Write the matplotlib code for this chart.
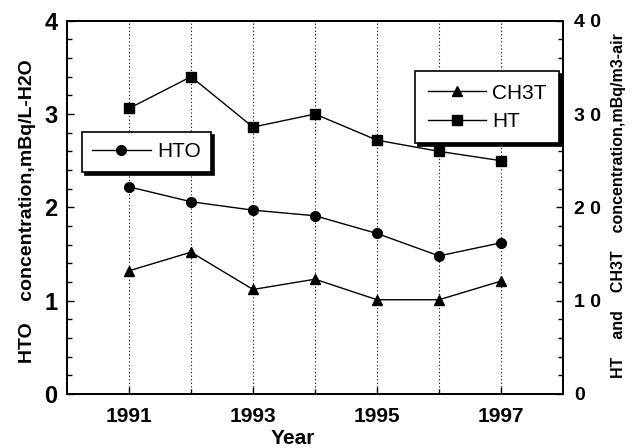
import matplotlib
matplotlib.use("Agg")
import matplotlib.pyplot as plt
from matplotlib.ticker import MultipleLocator, FixedLocator

years = [1991, 1992, 1993, 1994, 1995, 1996, 1997]
hto = [2.22, 2.06, 1.97, 1.91, 1.72, 1.48, 1.62]
ch3t = [13.2, 15.2, 11.2, 12.3, 10.1, 10.1, 12.1]
ht = [30.6, 34.0, 28.6, 30.0, 27.2, 26.0, 25.0]
xtick_labels = ["1991", "1993", "1995", "1997"]
left_ticks = [0, 1, 2, 3, 4]
right_ticks = [0, 10, 20, 30, 40]
right_tick_labels = ["0", "1 0", "2 0", "3 0", "4 0"]

plt.rcParams['font.family'] = ['Liberation Sans', 'DejaVu Sans']

fig = plt.figure(figsize=(6.36, 4.48), dpi=100)
ax = fig.add_axes([67/636, 1-394/448, 496/636, (394-20.7)/448])
ax2 = ax.twinx()

for a in (ax, ax2):
    for s in a.spines.values():
        s.set_linewidth(1.3)

ax.set_xlim(1990, 1998)
ax.set_ylim(0, 4)
ax2.set_ylim(0, 40)

for y in years:
    ax.axvline(y, color='black', linestyle=(0, (1, 2.2)), linewidth=0.8, zorder=0)

l1, = ax.plot(years, hto, color='black', linewidth=1, marker='o', markersize=7, label='HTO')
l2, = ax2.plot(years, ch3t, color='black', linewidth=1, marker='^', markersize=7.5, label='CH3T')
l3, = ax2.plot(years, ht, color='black', linewidth=1, marker='s', markersize=6.5, label='HT')

ax.xaxis.set_major_locator(FixedLocator([1991, 1993, 1995, 1997]))
ax.xaxis.set_minor_locator(FixedLocator([1992, 1994, 1996]))
ax.set_xticklabels(xtick_labels, fontsize=15, fontweight='bold')
ax.yaxis.set_major_locator(FixedLocator(left_ticks))
ax.yaxis.set_minor_locator(MultipleLocator(0.2))
ax.set_yticklabels([str(t) for t in left_ticks], fontsize=17, fontweight='bold')
ax2.yaxis.set_major_locator(FixedLocator(right_ticks))
ax2.yaxis.set_minor_locator(MultipleLocator(2))
ax2.set_yticklabels(right_tick_labels, fontsize=14, fontweight='bold')

ax.tick_params(axis='both', which='major', direction='in', length=5, width=1, pad=7)
ax.tick_params(axis='both', which='minor', direction='in', length=3.5, width=1)
ax.tick_params(axis='y', which='both', right=False)
ax.tick_params(axis='x', which='both', top=False)
ax.tick_params(axis='x', which='major', pad=9)
ax2.tick_params(axis='y', which='major', direction='in', length=5, width=1, pad=8)
ax2.tick_params(axis='y', which='minor', direction='in', length=3.5, width=1)

ax.set_xlabel('Year', fontsize=15, fontweight='bold')
ax.xaxis.set_label_coords(0.456, -0.093)
ax.set_ylabel('HTO    concentration,mBq/L-H2O', fontsize=14, fontweight='bold')
ax.yaxis.set_label_coords(-0.063, 0.49)
ax2.set_ylabel('HT    and    CH3T    concentration,mBq/m3-air', fontsize=11.5, fontweight='bold',
               rotation=90)
ax2.yaxis.set_label_coords(1.097, 0.505)

shadow = {'color': 'black', 'alpha': 1}
leg1 = ax.legend(handles=[l1], loc='upper left', bbox_to_anchor=(0.03, 0.702), borderaxespad=0,
                 fontsize=15, handlelength=2.8, frameon=True, fancybox=False, shadow=shadow,
                 borderpad=0.5, handletextpad=0.3)
leg1.get_frame().set_edgecolor('black')
leg1.get_frame().set_linewidth(1.2)
leg1.get_frame().set_alpha(1)

leg2 = ax2.legend(handles=[l2, l3], loc='upper left', bbox_to_anchor=(0.702, 0.865), borderaxespad=0,
                  fontsize=15, handlelength=2.8, frameon=True, fancybox=False, shadow=shadow,
                  borderpad=0.6, handletextpad=0.3, labelspacing=0.45)
leg2.get_frame().set_edgecolor('black')
leg2.get_frame().set_linewidth(1.2)
leg2.get_frame().set_alpha(1)

fig.savefig('out.png', dpi=100)
